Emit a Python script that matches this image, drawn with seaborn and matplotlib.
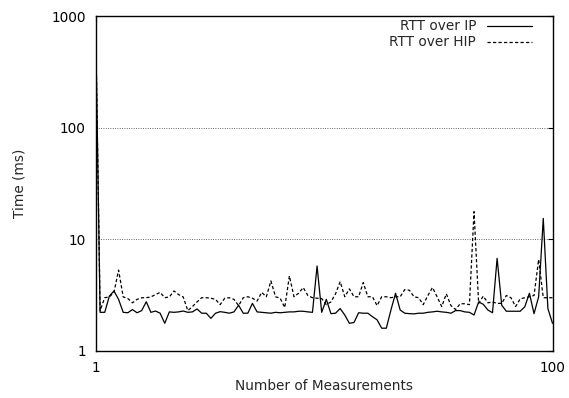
import matplotlib
matplotlib.use("Agg")
import matplotlib.pyplot as plt
import seaborn as sns
import pandas as pd
from matplotlib.ticker import FixedLocator, NullLocator, FixedFormatter

measurements = list(range(1, 101))

rtt_ip = [1000, 2.22, 2.22, 3.1, 3.45, 2.9, 2.22, 2.2, 2.35, 2.2,
          2.3, 2.76, 2.22, 2.28, 2.18, 1.77, 2.24, 2.22, 2.24, 2.28,
          2.22, 2.24, 2.38, 2.18, 2.18, 1.96, 2.18, 2.25, 2.22, 2.18,
          2.24, 2.57, 2.18, 2.18, 2.67, 2.24, 2.22, 2.2, 2.18, 2.22,
          2.2, 2.22, 2.24, 2.24, 2.27, 2.27, 2.24, 2.22, 5.77, 2.22,
          2.9, 2.16, 2.18, 2.4, 2.1, 1.77, 1.8, 2.2, 2.18, 2.18,
          2.03, 1.9, 1.6, 1.6, 2.33, 3.29, 2.33, 2.18, 2.16, 2.15,
          2.18, 2.18, 2.22, 2.24, 2.27, 2.24, 2.22, 2.18, 2.3, 2.3,
          2.24, 2.22, 2.1, 2.75, 2.62, 2.33, 2.2, 6.76, 2.57, 2.27,
          2.27, 2.27, 2.27, 2.49, 3.29, 2.16, 3.06, 15.4, 2.4, 1.77]

rtt_hip = [1000, 2.3, 3.0, 3.05, 3.35, 5.3, 3.05, 2.95, 2.7, 2.9,
           3.0, 3.0, 3.05, 3.2, 3.35, 3.0, 3.05, 3.45, 3.2, 3.05,
           2.3, 2.5, 2.75, 3.0, 3.0, 2.97, 2.9, 2.6, 2.97, 3.0,
           2.9, 2.55, 3.0, 3.06, 2.97, 2.8, 3.35, 3.06, 4.24, 3.06,
           2.97, 2.45, 4.7, 3.06, 3.29, 3.7, 3.14, 3.0, 2.97, 2.95,
           2.6, 2.75, 3.25, 4.18, 3.06, 3.6, 3.06, 3.06, 4.1, 3.06,
           3.06, 2.55, 3.06, 3.06, 3.0, 3.06, 3.06, 3.55, 3.5, 3.06,
           3.0, 2.6, 3.14, 3.7, 3.06, 2.5, 3.25, 2.55, 2.35, 2.65,
           2.65, 2.6, 17.7, 2.67, 3.1, 2.7, 2.75, 2.67, 2.67, 3.14,
           3.0, 2.5, 2.93, 3.0, 3.06, 3.14, 6.6, 3.0, 3.0, 3.0]

series_labels = ["RTT over IP", "RTT over HIP"]
x_ticks = [1, 100]
y_ticks = [1, 10, 100, 1000]
y_tick_labels = ["1", "10", "100", "1000"]

FS = 9.8

sns.set_style("white")
plt.rcParams['font.family'] = ['DejaVu Sans']
plt.rcParams['font.size'] = FS

fig = plt.figure(figsize=(5.69, 3.98), dpi=100)
ax = fig.add_axes([95.5 / 569, 1 - 351 / 398, 457 / 569, 335 / 398])

df = pd.DataFrame({"x": measurements, "ip": rtt_ip, "hip": rtt_hip})

sns.lineplot(data=df, x="x", y="ip", ax=ax, color="black", lw=0.9,
             label=series_labels[0])
sns.lineplot(data=df, x="x", y="hip", ax=ax, color="black", lw=0.9,
             dashes=False, label=series_labels[1])
ax.lines[1].set_linestyle((0, (2.6, 1.8)))

ax.set_yscale("log")
ax.set_xlim(1, 100)
ax.set_ylim(1, 1000)

ax.xaxis.set_major_locator(FixedLocator(x_ticks))
ax.xaxis.set_minor_locator(NullLocator())
ax.yaxis.set_major_locator(FixedLocator(y_ticks))
ax.yaxis.set_major_formatter(FixedFormatter(y_tick_labels))
ax.yaxis.set_minor_locator(NullLocator())

ax.tick_params(direction="in", which="both", top=True, right=True,
               length=3.6, width=0.8, pad=7, labelsize=FS, colors="black")

ax.yaxis.grid(True, linestyle=(0, (0.8, 1.6)), color="#444444", lw=0.7)
ax.xaxis.grid(False)

for s in ax.spines.values():
    s.set_color("black")
    s.set_linewidth(1.0)

ax.set_xlabel("Number of Measurements", fontsize=FS)
ax.set_ylabel("Time (ms)", fontsize=FS)
ax.xaxis.set_label_coords(0.5, -0.083)
ax.yaxis.set_label_coords(-0.15, 0.5)

leg = ax.legend(loc="upper right", bbox_to_anchor=(0.955, 0.99),
                markerfirst=False, frameon=False, borderpad=0,
                borderaxespad=0, handlelength=3.3, handletextpad=0.8,
                labelspacing=0.15, fontsize=FS)

fig.savefig("out.png", dpi=100)
